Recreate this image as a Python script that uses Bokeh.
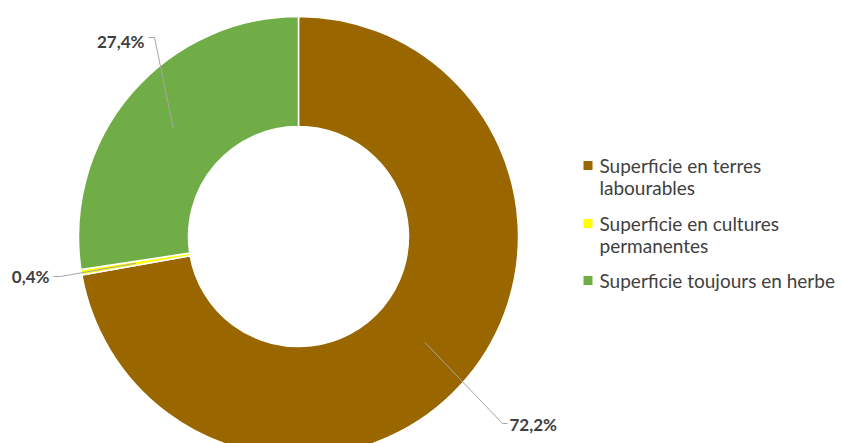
import math
from bokeh.plotting import figure
from bokeh.models import Range1d
from bokeh.core.properties import value
from bokeh.embed import file_html
from bokeh.resources import INLINE

# ---- data ----
categories = ["Superficie en terres labourables",
              "Superficie en cultures permanentes",
              "Superficie toujours en herbe"]
legend_lines = [["Superficie en terres", "labourables"],
                ["Superficie en cultures", "permanentes"],
                ["Superficie toujours en herbe"]]
shares = [72.2, 0.4, 27.4]
labels = ["72,2%", "0,4%", "27,4%"]
colors = ["#996600", "#FFFF00", "#70AD47"]

# ---- layout (pixel-like data coordinates: x = image x, y = H - image y) ----
W, H = 842, 443
def Y(img_y):
    return H - img_y

cx, cy = 298, Y(236)
r_out, r_in = 220, 110

p = figure(width=W, height=H, output_backend="svg", toolbar_location=None,
           x_range=Range1d(0, W), y_range=Range1d(Y(H), Y(0)),
           min_border=0, outline_line_color=None, background_fill_color="white")
p.axis.visible = False
p.xgrid.visible = False
p.ygrid.visible = False

total = sum(shares)
starts, ends, mids = [], [], []
a = 90.0
for s in shares:
    e = a - 360.0 * s / total
    starts.append(math.radians(a))
    ends.append(math.radians(e))
    mids.append(math.radians((a + e) / 2))
    a = e

p.annular_wedge(x=[cx] * 3, y=[cy] * 3, inner_radius=r_in, outer_radius=r_out,
                start_angle=starts, end_angle=ends, direction="clock",
                fill_color=colors, line_color="white", line_width=1.5)

# leader lines start at mid radius of each slice
r_mid = (r_in + r_out) / 2
anchors = [(cx + r_mid * math.cos(m), cy + r_mid * math.sin(m)) for m in mids]
# elbow / end points and label positions (image coords)
elbows = [(502, 423), (60, 276), (154, 37)]
ends_pt = [(507, 423), (53, 276), (148, 37)]
label_pos = [(509, 424, "left"), (49, 276, "right"), (144, 41, "right")]

for (ax, ay), (ex, ey), (tx, ty) in zip(anchors, elbows, ends_pt):
    p.line([ax, ex, tx], [ay, Y(ey), Y(ty)], line_color="#A6A6A6", line_width=1)

for lab, (lx, ly, al) in zip(labels, label_pos):
    p.text(x=[lx], y=[Y(ly)], text=[lab], text_align=al, text_baseline="middle",
           text_font=value("Lato"), text_font_size="17px", text_font_style="bold",
           text_color="#404040")

# legend
leg_x = 587.5
leg_rows = [165, 223, 280]
line_h = 22
for col, lines, ry in zip(colors, legend_lines, leg_rows):
    p.rect(x=[leg_x], y=[Y(ry)], width=9, height=9, fill_color=col, line_color=None)
    for i, t in enumerate(lines):
        p.text(x=[599], y=[Y(ry + i * line_h)], text=[t], text_align="left",
               text_baseline="middle", text_font=value("Lato"),
               text_font_size="19px", text_color="#404040")

open("out.html", "w").write(file_html(p, INLINE))
